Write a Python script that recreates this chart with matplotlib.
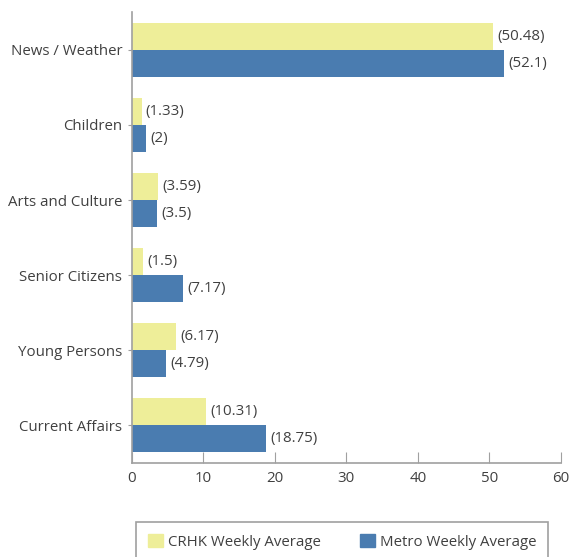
import matplotlib.pyplot as plt
import matplotlib.patches as mpatches
import numpy as np

plt.rcParams["font.family"] = ["Open Sans", "DejaVu Sans"]

categories = ["News / Weather", "Children", "Arts and Culture",
              "Senior Citizens", "Young Persons", "Current Affairs"]
crhk = [50.48, 1.33, 3.59, 1.5, 6.17, 10.31]
metro = [52.1, 2, 3.5, 7.17, 4.79, 18.75]
crhk_labels = ["(50.48)", "(1.33)", "(3.59)", "(1.5)", "(6.17)", "(10.31)"]
metro_labels = ["(52.1)", "(2)", "(3.5)", "(7.17)", "(4.79)", "(18.75)"]

yellow = "#EEEE99"
blue = "#4A7CB0"
text_color = "#404040"
axis_color = "#A0A0A0"
fs = 10.8

fig = plt.figure(figsize=(5.74, 5.57), dpi=100)
ax = fig.add_axes([0.23, 0.169, 0.747, 0.809])

y = np.arange(len(categories))
h = 0.36
ax.barh(y - h / 2, crhk, height=h, color=yellow)
ax.barh(y + h / 2, metro, height=h, color=blue)

for yi, v, lab in zip(y, crhk, crhk_labels):
    ax.text(v + 0.6, yi - h / 2, lab, va="center", ha="left",
            fontsize=fs, color=text_color)
for yi, v, lab in zip(y, metro, metro_labels):
    ax.text(v + 0.6, yi + h / 2, lab, va="center", ha="left",
            fontsize=fs, color=text_color)

ax.set_ylim(len(categories) - 0.5, -0.5)
ax.set_xlim(0, 60)
ax.set_xticks(range(0, 61, 10))
ax.set_yticks(y)
ax.set_yticklabels(categories)

for s in ["top", "right"]:
    ax.spines[s].set_visible(False)
for s in ["left", "bottom"]:
    ax.spines[s].set_color(axis_color)
    ax.spines[s].set_linewidth(1.2)

ax.tick_params(axis="x", direction="in", length=8, color=axis_color,
               labelsize=fs, labelcolor=text_color, pad=6)
ax.tick_params(axis="y", direction="out", length=3, color=axis_color,
               labelsize=fs, labelcolor=text_color, pad=4)

# legend box runs off the bottom edge in the original
box = mpatches.Rectangle((0.237, -0.05), 0.718, 0.113, transform=fig.transFigure,
                         fill=False, edgecolor=axis_color, linewidth=1.2)
fig.patches.append(box)

handles = [mpatches.Patch(color=yellow, label="CRHK Weekly Average"),
           mpatches.Patch(color=blue, label="Metro Weekly Average")]
leg = fig.legend(handles=handles, ncol=2, loc="upper left",
                 bbox_to_anchor=(0.237, -0.1, 0.718, 0.163), mode="expand",
                 borderaxespad=0, fontsize=fs, frameon=False,
                 handlelength=1.0, handleheight=1.0, handletextpad=0.3,
                 borderpad=0.8, labelcolor=text_color)

fig.savefig("out.png", dpi=100)
